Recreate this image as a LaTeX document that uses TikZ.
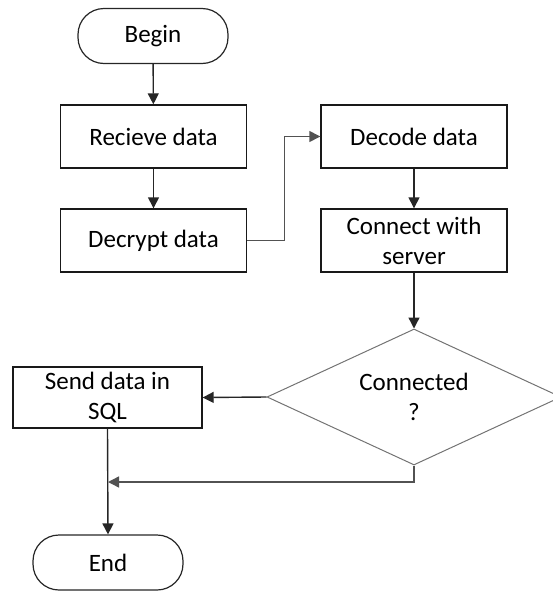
\documentclass[tikz,border=0pt]{standalone}
\usepackage{fontspec}
\setmainfont{Carlito}
\usetikzlibrary{arrows.meta,shapes.geometric}
\begin{document}
\begin{tikzpicture}[x=1pt,y=-1pt,
  base/.style={font=\fontsize{25}{30}\selectfont, inner sep=0pt, align=center, text=black},
  term/.style={base, draw=black!85, line width=1.2pt, rounded corners=26pt, minimum width=150pt, minimum height=55pt},
  proc/.style={base, draw=black!90, line width=1.4pt, minimum width=186pt, minimum height=63pt},
  dec/.style={base, diamond, draw=black!55, line width=1pt, minimum width=294pt, minimum height=136pt, aspect=2.16},
  arr/.style={line width=1.4pt, draw=black!85, -{Triangle[width=11pt,length=11pt]}},
  garr/.style={arr, draw=black!68}
]
\useasboundingbox (0,0) rectangle (553,592);
\clip (0,0) rectangle (553,592);
\node[term] (begin) at (153,36) {Begin};
\node[proc] (recv) at (153.5,136.5) {Recieve data};
\node[proc] (decrypt) at (153.5,240.5) {Decrypt data};
\node[proc] (decode) at (414,136.5) {Decode data};
\node[proc] (connect) at (414,240.5) {Connect with\\server};
\node[dec] (dia) at (414,397) {Connected\\?};
\node[proc, minimum width=189pt, minimum height=61pt] (send) at (107.5,397.5) {Send data in\\SQL};
\node[term] (end) at (108,562.5) {End};
\coordinate (join) at (108,482);

\draw[arr] (begin) -- (recv);
\draw[arr] (recv) -- (decrypt);
\draw[garr] (decrypt.east) -- ++(37,0) |- (decode.west);
\draw[arr] (decode) -- (connect);
\draw[arr] (connect) -- (dia);
\draw[arr] (dia.west) -- (send.east);
\draw[arr] (send.south) -- (end.north);
\draw[garr] (dia.south) |- (join);
\end{tikzpicture}
\end{document}
